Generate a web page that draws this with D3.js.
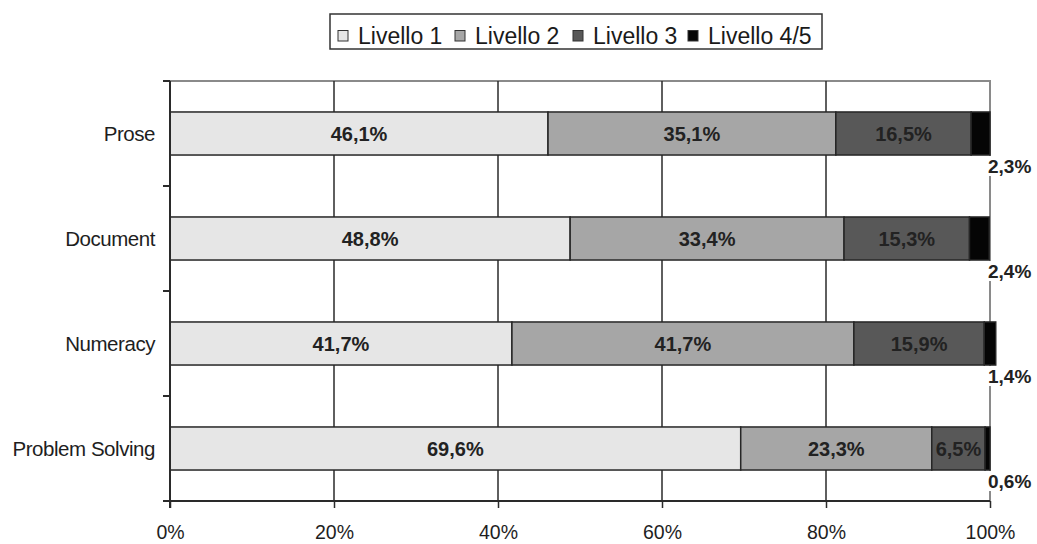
<!DOCTYPE html>
<html>
<head>
<meta charset="utf-8">
<script src="https://cdn.jsdelivr.net/npm/d3@7"></script>
<style>
  html, body { margin: 0; padding: 0; background: #fff; }
  svg { display: block; font-family: "Liberation Sans", Arial, sans-serif; }
</style>
</head>
<body>
<svg id="chart" width="1037" height="544"></svg>
<script>
// Skill areas and the share of adults at each proficiency level (%)
const categories = ["Prose", "Document", "Numeracy", "Problem Solving"];
const levels = ["Livello 1", "Livello 2", "Livello 3", "Livello 4/5"];
const livello1 = [46.1, 48.8, 41.7, 69.6];
const livello2 = [35.1, 33.4, 41.7, 23.3];
const livello3 = [16.5, 15.3, 15.9, 6.5];
const livello45 = [2.3, 2.4, 1.4, 0.6];
const xTicks = [0, 20, 40, 60, 80, 100];

const series = [livello1, livello2, livello3, livello45];
const colors = ["#e6e6e6", "#a6a6a6", "#585858", "#050505"];

const svg = d3.select("#chart");
const margin = { left: 170, right: 47, top: 81, bottom: 43 };
const W = 1037, H = 544;

const x = d3.scaleLinear().domain([0, 100]).range([margin.left, W - margin.right]);
const y = d3.scaleBand().domain(categories).range([margin.top, H - margin.bottom]).paddingInner(0.59).paddingOuter(0.295);
const yOuter = d3.scaleBand().domain(categories).range([margin.top, H - margin.bottom]);

const fmt = v => d3.format(".1f")(v).replace(".", ",") + "%";

// plot-area frame (top and right edges)
svg.append("path")
  .attr("d", `M${x(0)},${margin.top}H${x(100)}V${H - margin.bottom}`)
  .attr("fill", "none").attr("stroke", "#8a8a8a").attr("stroke-width", 2);

// vertical gridlines
svg.append("g").selectAll("line").data(xTicks.slice(1, -1)).join("line")
  .attr("x1", d => x(d)).attr("x2", d => x(d))
  .attr("y1", margin.top).attr("y2", H - margin.bottom)
  .attr("stroke", "#2a2a2a").attr("stroke-width", 1.5);

// stacked segments
const rows = categories.map((c, i) => {
  let acc = 0;
  return series.map((s, k) => {
    const seg = { cat: c, k, v: s[i], x0: acc, x1: acc + s[i] };
    acc += s[i];
    return seg;
  });
});
const segs = rows.flat();

svg.append("g").selectAll("rect").data(segs).join("rect")
  .attr("x", d => x(d.x0))
  .attr("y", d => y(d.cat))
  .attr("width", d => x(d.x1) - x(d.x0))
  .attr("height", y.bandwidth())
  .attr("fill", d => colors[d.k])
  .attr("stroke", "#262626").attr("stroke-width", 1.5);

// value labels inside the first three segments
svg.append("g").selectAll("text").data(segs.filter(d => d.k < 3)).join("text")
  .attr("x", d => (x(d.x0) + x(d.x1)) / 2)
  .attr("y", d => y(d.cat) + y.bandwidth() / 2)
  .attr("dy", "0.36em")
  .attr("text-anchor", "middle")
  .attr("font-size", 20).attr("font-weight", "bold")
  .attr("fill", "#222")
  .text(d => fmt(d.v));

// labels for the narrow top level, set just below the bar end
const outer = svg.append("g").selectAll("g").data(segs.filter(d => d.k === 3)).join("g")
  .attr("transform", d => `translate(${x(100) - 3},${y(d.cat) + y.bandwidth() + 11})`);
outer.append("rect")
  .attr("x", 0).attr("y", -10).attr("width", 46).attr("height", 20)
  .attr("fill", "#fff");
outer.append("text")
  .attr("x", 1).attr("dy", "0.36em")
  .attr("font-size", 19).attr("font-weight", "bold")
  .attr("fill", "#222")
  .text(d => fmt(d.v));

// y axis
const yAxisG = svg.append("g").attr("transform", `translate(${margin.left},0)`);
yAxisG.append("line")
  .attr("x1", 0).attr("x2", 0).attr("y1", margin.top).attr("y2", H - margin.bottom + 7)
  .attr("stroke", "#2a2a2a").attr("stroke-width", 2);
const yTickPos = categories.map(c => yOuter(c)).concat([H - margin.bottom]);
yAxisG.selectAll("line.tick").data(yTickPos).join("line").attr("class", "tick")
  .attr("x1", -7).attr("x2", 0).attr("y1", d => d).attr("y2", d => d)
  .attr("stroke", "#2a2a2a").attr("stroke-width", 2);
yAxisG.selectAll("text").data(categories).join("text")
  .attr("x", -15).attr("y", d => y(d) + y.bandwidth() / 2).attr("dy", "0.36em")
  .attr("text-anchor", "end").attr("font-size", 20.5).attr("letter-spacing", "-0.45")
  .attr("fill", "#1e1e1e")
  .text(d => d);

// x axis
const xAxis = d3.axisBottom(x).tickValues(xTicks).tickFormat(d => d + "%").tickSize(7).tickPadding(17);
const xAxisG = svg.append("g").attr("transform", `translate(0,${H - margin.bottom})`).call(xAxis);
xAxisG.select(".domain").attr("d", `M${x(0) - 7},0H${x(100)}`).attr("stroke", "#2a2a2a").attr("stroke-width", 2);
xAxisG.selectAll(".tick line").attr("stroke", "#2a2a2a").attr("stroke-width", 1.5);
xAxisG.selectAll(".tick text").attr("font-size", 19.5).attr("fill", "#1e1e1e")
  .attr("font-family", "'Liberation Sans', Arial, sans-serif");

// legend
const legend = svg.append("g");
legend.append("rect")
  .attr("x", 330).attr("y", 14).attr("width", 492).attr("height", 35)
  .attr("fill", "#fff").attr("stroke", "#333").attr("stroke-width", 1.5);
const legendX = [338, 455, 573, 688];
const items = legend.selectAll("g").data(levels).join("g")
  .attr("transform", (d, i) => `translate(${legendX[i]},30.5)`);
items.append("rect")
  .attr("x", 0).attr("y", 0).attr("width", 10).attr("height", 10.5)
  .attr("fill", (d, i) => colors[i]).attr("stroke", "#333").attr("stroke-width", 1);
items.append("text")
  .attr("x", 20).attr("y", 5.5).attr("dy", "0.36em")
  .attr("font-size", 23).attr("fill", "#1a1a1a")
  .text(d => d);
</script>
</body>
</html>
